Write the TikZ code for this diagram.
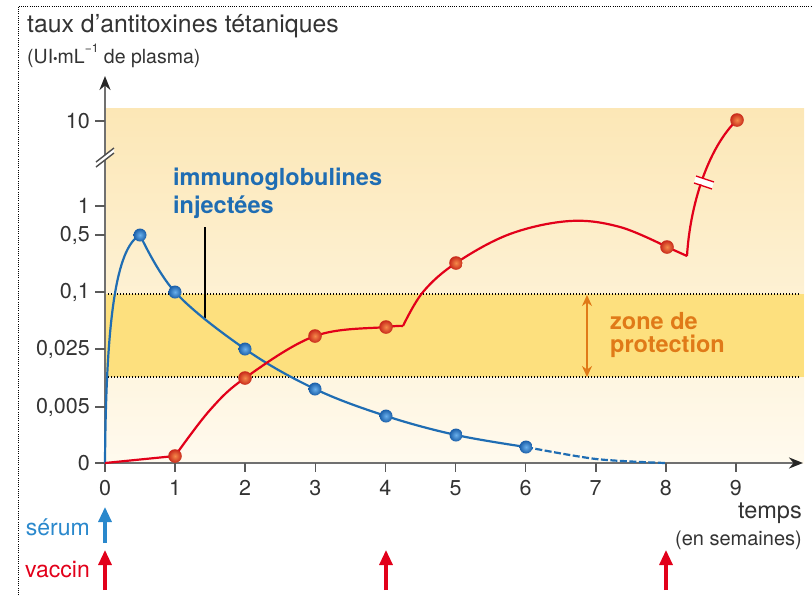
\documentclass[tikz,border=0pt]{standalone}
\usepackage{fontspec}
\setmainfont{TeX Gyre Heros}
\usetikzlibrary{arrows.meta}
\definecolor{txt}{HTML}{333333}
\definecolor{axisgray}{HTML}{707070}
\definecolor{cblue}{HTML}{1F6DB3}
\definecolor{cbluelt}{HTML}{2A88CC}
\definecolor{cred}{HTML}{E2001A}
\definecolor{corange}{HTML}{E07A18}
\definecolor{bgtop}{HTML}{FCE7B6}
\definecolor{bgbot}{HTML}{FFFAEE}
\definecolor{zone}{HTML}{FDE07E}
\definecolor{redin}{HTML}{F58A4A}
\definecolor{redout}{HTML}{C8281A}
\definecolor{bluein}{HTML}{6AB0EC}
\definecolor{blueout}{HTML}{1A5EA8}
\tikzset{
  ticklab/.style={text=txt,font=\fontsize{21.5}{24}\selectfont,inner sep=0pt},
  tickmark/.style={draw=axisgray!80!black,line width=1.6pt},
  axisline/.style={draw=axisgray,line width=2.6pt},
  redcurve/.style={draw=cred,line width=2.2pt,line join=round},
  bluecurve/.style={draw=cblue,line width=2.2pt,line join=round},
  dotline/.style={draw=black,line width=1.3pt,dash pattern=on 1.3pt off 1.7pt},
  redpt/.style={inner color=redin,outer color=redout},
  bluept/.style={inner color=bluein,outer color=blueout},
  bigarrow/.style={line width=3.2pt,-{Triangle[width=13pt,length=15pt]}},
}
\begin{document}
\begin{tikzpicture}[x=1pt,y=-1pt]
\useasboundingbox (0,0) rectangle (812,595);
% outer dotted frame
\draw[black,line width=0.9pt,dash pattern=on 0.9pt off 1.3pt] (18,595) -- (18,6) -- (812,6);
% backgrounds
\shade[top color=bgtop,bottom color=bgbot] (105,108) rectangle (804,463);
\fill[zone] (105,294) rectangle (804,377);
\draw[dotline] (105,294) -- (800,294);
\draw[dotline] (105,377) -- (800,377);
% titles
\node[anchor=base west,text=txt,font=\fontsize{24.8}{28}\selectfont,inner sep=0pt] (title) at (27,32) {taux d'antitoxines tétaniques};
\node[anchor=base west,text=txt,font=\fontsize{19.5}{22}\selectfont,inner sep=0pt] (units) at (27,63) {(UI{\fontsize{13}{13}\selectfont•}mL\raisebox{0.55em}{\fontsize{12}{12}\selectfont −1} de plasma)};
% axes
\coordinate (O) at (105,463);
\coordinate (ytop) at (105,76);
\coordinate (xend) at (803,463);
\draw[axisline,-{Stealth[length=14pt,width=11pt,color=black!85]}] (O) -- (ytop);
\draw[axisline,-{Stealth[length=14pt,width=11pt,color=black!85]}] (O) -- (xend);
% y axis break
\fill[white] (96,162) -- (114,148) -- (114,153) -- (96,167) -- cycle;
\draw[axisgray!70!black,line width=1.4pt] (96,162) -- (114,148);
\draw[axisgray!70!black,line width=1.4pt] (96,167) -- (114,153);
% y ticks
\foreach \v/\yy/\n in {0/463/y0,{0,005}/407/y1,{0,025}/349/y2,{0,1}/292/y3,{0,5}/235/y4,1/206/y5,10/121/y6}{
  \draw[tickmark] (95,\yy) -- (105,\yy);
  \node[ticklab,anchor=east] (\n) at (90,\yy) {\v};
}
% x ticks
\foreach \i in {0,...,9}{
  \pgfmathsetmacro{\xx}{105+70.1*\i}
  \draw[tickmark] (\xx,463) -- (\xx,472);
  \node[ticklab] (x\i) at (\xx,488) {\i};
}
\node[anchor=east,text=txt,font=\fontsize{23.5}{26}\selectfont,inner sep=0pt] (temps) at (802,513) {temps};
\node[anchor=east,text=txt,font=\fontsize{20}{22}\selectfont,inner sep=0pt] (sem) at (802,540) {(en semaines)};
% protection zone
\coordinate (zt) at (587,295);
\coordinate (zb) at (587,377);
\draw[corange,line width=2.2pt,{Stealth[length=11pt,width=10pt]}-{Stealth[length=11pt,width=10pt]}] (zt) -- (zb);
\node[anchor=base west,text=corange,font=\bfseries\fontsize{23.5}{26}\selectfont,inner sep=0pt] (zone1) at (610,329) {zone de};
\node[anchor=base west,text=corange,font=\bfseries\fontsize{23.5}{26}\selectfont,inner sep=0pt] (zone2) at (610,352) {protection};
% immunoglobulines label
\node[anchor=base west,text=cblue,font=\bfseries\fontsize{23.5}{27}\selectfont,inner sep=0pt] (imm1) at (173,185) {immunoglobulines};
\node[anchor=base west,text=cblue,font=\bfseries\fontsize{23.5}{27}\selectfont,inner sep=0pt] (imm2) at (173,213) {injectées};
\coordinate (lt) at (205,227);
\coordinate (lb) at (205,318);
\draw[black,line width=1.3pt] (lt) -- (lb);
% blue curve
\draw[bluecurve] (105,463) .. controls (106,320) and (116,248) .. (140,235);
\draw[bluecurve] plot[smooth,tension=0.6] coordinates {(140,235) (175,292) (245,349) (315,389) (386,416) (456,435) (526,447)};
\draw[bluecurve,dash pattern=on 7pt off 2.5pt] plot[smooth] coordinates {(526,447) (596,459) (665,463)};
% red curve
\draw[redcurve] (105,463) -- (175,456);
\draw[redcurve] plot[smooth,tension=0.6] coordinates {(175,456) (210,410) (245,378) (315,336) (386,327) (403,326)};
\draw[redcurve] plot[smooth,tension=0.6] coordinates {(403,326) (423,292) (456,263) (510,234) (570,221) (620,227) (667,247)};
\draw[redcurve] (667,247) -- (687,256);
\draw[redcurve] (687,256) .. controls (690,205) and (708,148) .. (737,120);
% red curve break
\fill[white] (694,182) -- (712,188) -- (714,182) -- (696,176) -- cycle;
\draw[cred,line width=1.4pt] (694,183) -- (712,189);
\draw[cred,line width=1.4pt] (696,176) -- (714,182);
% points
\foreach \px/\py/\n in {140/235/b1,175/292/b2,245/349/b3,315/389/b4,386/416/b5,456/435/b6,526/447/b7}{
  \shade[bluept] (\px,\py) circle[radius=6.5pt];
  \coordinate (\n) at (\px,\py);
}
\foreach \px/\py/\n in {175/456/r1,245/378/r2,315/336/r3,386/327/r4,456/263/r5,667/247/r6,737/120/r7}{
  \shade[redpt] (\px,\py) circle[radius=6.8pt];
  \coordinate (\n) at (\px,\py);
}
% bottom arrows
\node[anchor=east,text=cbluelt,font=\fontsize{23}{26}\selectfont,inner sep=0pt] (serum) at (90,527) {sérum};
\node[anchor=east,text=cred,font=\fontsize{23}{26}\selectfont,inner sep=0pt] (vaccin) at (90,570) {vaccin};
\coordinate (s0a) at (105,543); \coordinate (s0b) at (105,507);
\draw[cbluelt,bigarrow] (s0a) -- (s0b);
\foreach \xx/\n in {105/v0,386/v4,666/v8}{
  \coordinate (\n a) at (\xx,590); \coordinate (\n b) at (\xx,550);
  \draw[cred,bigarrow] (\n a) -- (\n b);
}
\end{tikzpicture}
\end{document}
